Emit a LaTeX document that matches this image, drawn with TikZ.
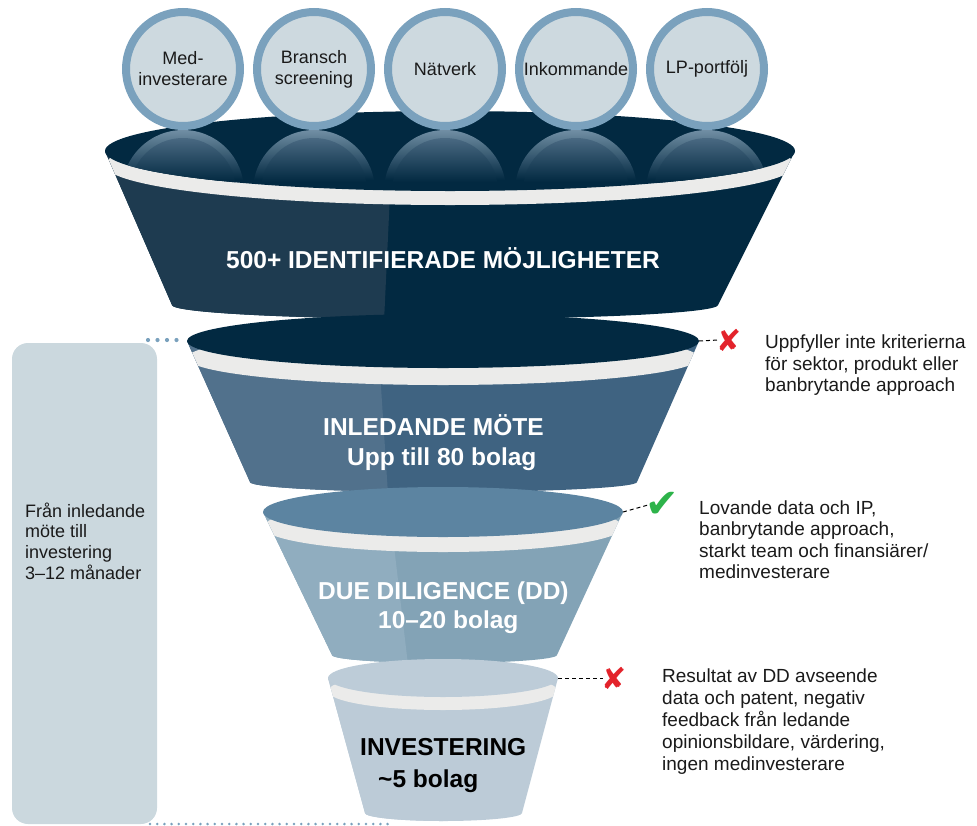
\documentclass[tikz,border=0pt]{standalone}
\usepackage{fontspec}
\setmainfont{Liberation Sans}
\newfontfamily\symfont{DejaVu Sans}
\definecolor{ringc}{HTML}{7AA1BD}
\definecolor{circfill}{HTML}{CDD9DF}
\definecolor{boxc}{HTML}{CBD8DE}
\definecolor{bandc}{HTML}{EBEBEA}
\definecolor{darkT}{HTML}{022941}
\definecolor{fOneL}{HTML}{1E3B50}
\definecolor{fTwoL}{HTML}{51718C}
\definecolor{fTwoR}{HTML}{3F6381}
\definecolor{fThreeT}{HTML}{5C84A1}
\definecolor{fThreeL}{HTML}{90ADBF}
\definecolor{fThreeR}{HTML}{83A3B6}
\definecolor{fFourT}{HTML}{BDCCD8}
\definecolor{fFourB}{HTML}{BCCBD7}
\definecolor{reflA}{HTML}{7592A8}
\definecolor{reflB}{HTML}{4D6C85}
\definecolor{xred}{HTML}{E3232B}
\definecolor{cgreen}{HTML}{2DB34A}
\definecolor{txt}{HTML}{1A1A1A}
\newcommand\drawfunnel{%
  \begin{scope}
    \clip ({\fcx-\frx},\fcy) -- (\fblx,\fby)
      arc[start angle=180,end angle=0,x radius={(\fbrx-\fblx)/2},y radius=\fbry]
      -- ({\fcx+\frx},\fcy) -- cycle;
    \fill[\fcolR] (0,0) rectangle (977,825);
    \fill[\fcolL] (0,\fsya) -- (\fsxa,\fsya) -- (\fsxb,\fsyb) -- (0,\fsyb) -- cycle;
    \fill[bandc] (\fcx,{\fcy+\fband}) ellipse[x radius=\frx,y radius=\fry];
  \end{scope}
  \fill[\fcolT] (\fcx,\fcy) ellipse[x radius=\frx,y radius=\fry];
}
\begin{document}
\begin{tikzpicture}[x=1pt,y=-1pt,
  circ/.style={circle,draw=ringc,line width=8pt,fill=circfill,minimum size=114pt,
    inner sep=0pt,align=center,text=txt,font=\fontsize{18}{21}\selectfont},
  sidetext/.style={anchor=north west,inner sep=0pt,align=left,text=txt},
  title/.style={inner sep=0pt,text=white,font=\bfseries\fontsize{24.5}{30}\selectfont},
  dashcon/.style={draw=black,line width=1pt,dash pattern=on 4pt off 3pt},
  xmark/.style={inner sep=0pt,text=xred,font=\symfont\fontsize{30}{30}\selectfont},
  cmark/.style={inner sep=0pt,text=cgreen,font=\symfont\fontsize{40}{40}\selectfont}]
\useasboundingbox (0,0) rectangle (977,825);

% left box
\node[fill=boxc,rounded corners=16pt,minimum width=145pt,minimum height=481pt,inner sep=0pt] (lb) at (84.5,583.5) {};
\node[sidetext,font=\fontsize{18}{20.7}\selectfont] (lbt) at (25,499)
  {\rule{0pt}{18pt}Från inledande\\möte till\\investering\\3–12 månader};

% funnel 1
\def\fcx{450}\def\fcy{151}\def\frx{345}\def\fry{40}\def\fband{14}
\def\fblx{172}\def\fbrx{718}\def\fby{305}\def\fbry{14}
\def\fsxa{392}\def\fsya{151}\def\fsxb{384}\def\fsyb{322}
\def\fcolL{fOneL}\def\fcolR{darkT}\def\fcolT{darkT}
\drawfunnel
% reflections
\begin{scope}
  \clip (450,151) ellipse[x radius=345,y radius=40];
  \foreach \x in {183,314,445,576,707}{
    \begin{scope}
      \clip (\x,191) circle[radius=61];
      \shade[top color=reflA,bottom color=darkT] ({\x-62},128) rectangle ({\x+62},180);
    \end{scope}
    \begin{scope}
      \clip (\x,191) circle[radius=53];
      \shade[top color=reflB,bottom color=darkT] ({\x-54},136) rectangle ({\x+54},182);
    \end{scope}
  }
\end{scope}

% circles
\node[circ] (c1) at (183,69) {Med-\\investerare};
\node[circ] (c2) at (314,69) {Bransch\\screening};
\node[circ] (c3) at (445,69) {Nätverk};
\node[circ] (c4) at (576,69) {Inkommande};
\node[circ] (c5) at (707,69) {LP-portfölj};

% funnel 2
\def\fcx{443}\def\fcy{341}\def\frx{256}\def\fry{27}\def\fband{17}
\def\fblx{250}\def\fbrx{637}\def\fby{482}\def\fbry{10}
\def\fsxa{378}\def\fsya{341}\def\fsxb{388}\def\fsyb{494}
\def\fcolL{fTwoL}\def\fcolR{fTwoR}\def\fcolT{darkT}
\drawfunnel

% funnel 3
\def\fcx{443}\def\fcy{512}\def\frx{180}\def\fry{25}\def\fband{15}
\def\fblx{332}\def\fbrx{557}\def\fby{655}\def\fbry{8}
\def\fsxa{390}\def\fsya{512}\def\fsxb{408}\def\fsyb{665}
\def\fcolL{fThreeL}\def\fcolR{fThreeR}\def\fcolT{fThreeT}
\drawfunnel

% funnel 4
\def\fcx{443}\def\fcy{678}\def\frx{115}\def\fry{19}\def\fband{13}
\def\fblx{365}\def\fbrx{522}\def\fby{813}\def\fbry{8}
\def\fsxa{443}\def\fsya{678}\def\fsxb{443}\def\fsyb{823}
\def\fcolL{fFourB}\def\fcolR{fFourB}\def\fcolT{fFourT}
\drawfunnel

% titles
\node[title,anchor=base] (t1) at (443,268) {500+ IDENTIFIERADE MÖJLIGHETER};
\node[title,anchor=north west,align=left] (t2) at (323,{435-24.5})
  {\rule{0pt}{24.5pt}INLEDANDE MÖTE\\\hspace*{24pt}Upp till 80 bolag};
\node[title,anchor=north west,align=left,font=\bfseries\fontsize{24.5}{29}\selectfont] (t3) at (318,{599-24.5})
  {\rule{0pt}{24.5pt}DUE DILIGENCE (DD)\\\hspace*{60pt}10–20 bolag};
\node[title,anchor=north west,align=left,text=black,font=\bfseries\fontsize{24.5}{32}\selectfont] (t4) at (360,{755-24.5})
  {\rule{0pt}{24.5pt}INVESTERING\\\hspace*{18pt}\textasciitilde5 bolag};

% side texts
\node[sidetext,font=\fontsize{19}{21.8}\selectfont] (r1) at (765,{348-19})
  {\rule{0pt}{19pt}Uppfyller inte kriterierna\\för sektor, produkt eller\\banbrytande approach};
\node[sidetext,font=\fontsize{19}{21.5}\selectfont] (r2) at (699,{514-19})
  {\rule{0pt}{19pt}Lovande data och IP,\\banbrytande approach,\\starkt team och finansiärer/\\medinvesterare};
\node[sidetext,font=\fontsize{19}{22}\selectfont] (r3) at (662,{682-19})
  {\rule{0pt}{19pt}Resultat av DD avseende\\data och patent, negativ\\feedback från ledande\\opinionsbildare, värdering,\\ingen medinvesterare};

% markers and connectors
\coordinate (tip2) at (699,341);
\coordinate (tip3) at (623,512);
\coordinate (tip4) at (558,678);
\node[xmark] (m1) at (729,340) {✘};
\node[cmark] (m2) at (662,505) {✔};
\node[xmark] (m3) at (614,678) {✘};
\draw[dashcon] (tip2) -- ([xshift=2pt]m1.west);
\draw[dashcon] (tip3) -- ([xshift=3pt]m2.west);
\draw[dashcon] (tip4) -- ([xshift=2pt]m3.west);

% dots
\foreach \x in {148,157.5,167,176.5}{\fill[ringc] (\x,340) circle[radius=2.1];}
\coordinate (d1) at (150,824);
\coordinate (d2) at (388,824);
\draw[ringc,line width=2.8pt,line cap=round,dash pattern=on 0pt off 7.2pt] (d1) -- (d2);
\end{tikzpicture}
\end{document}
